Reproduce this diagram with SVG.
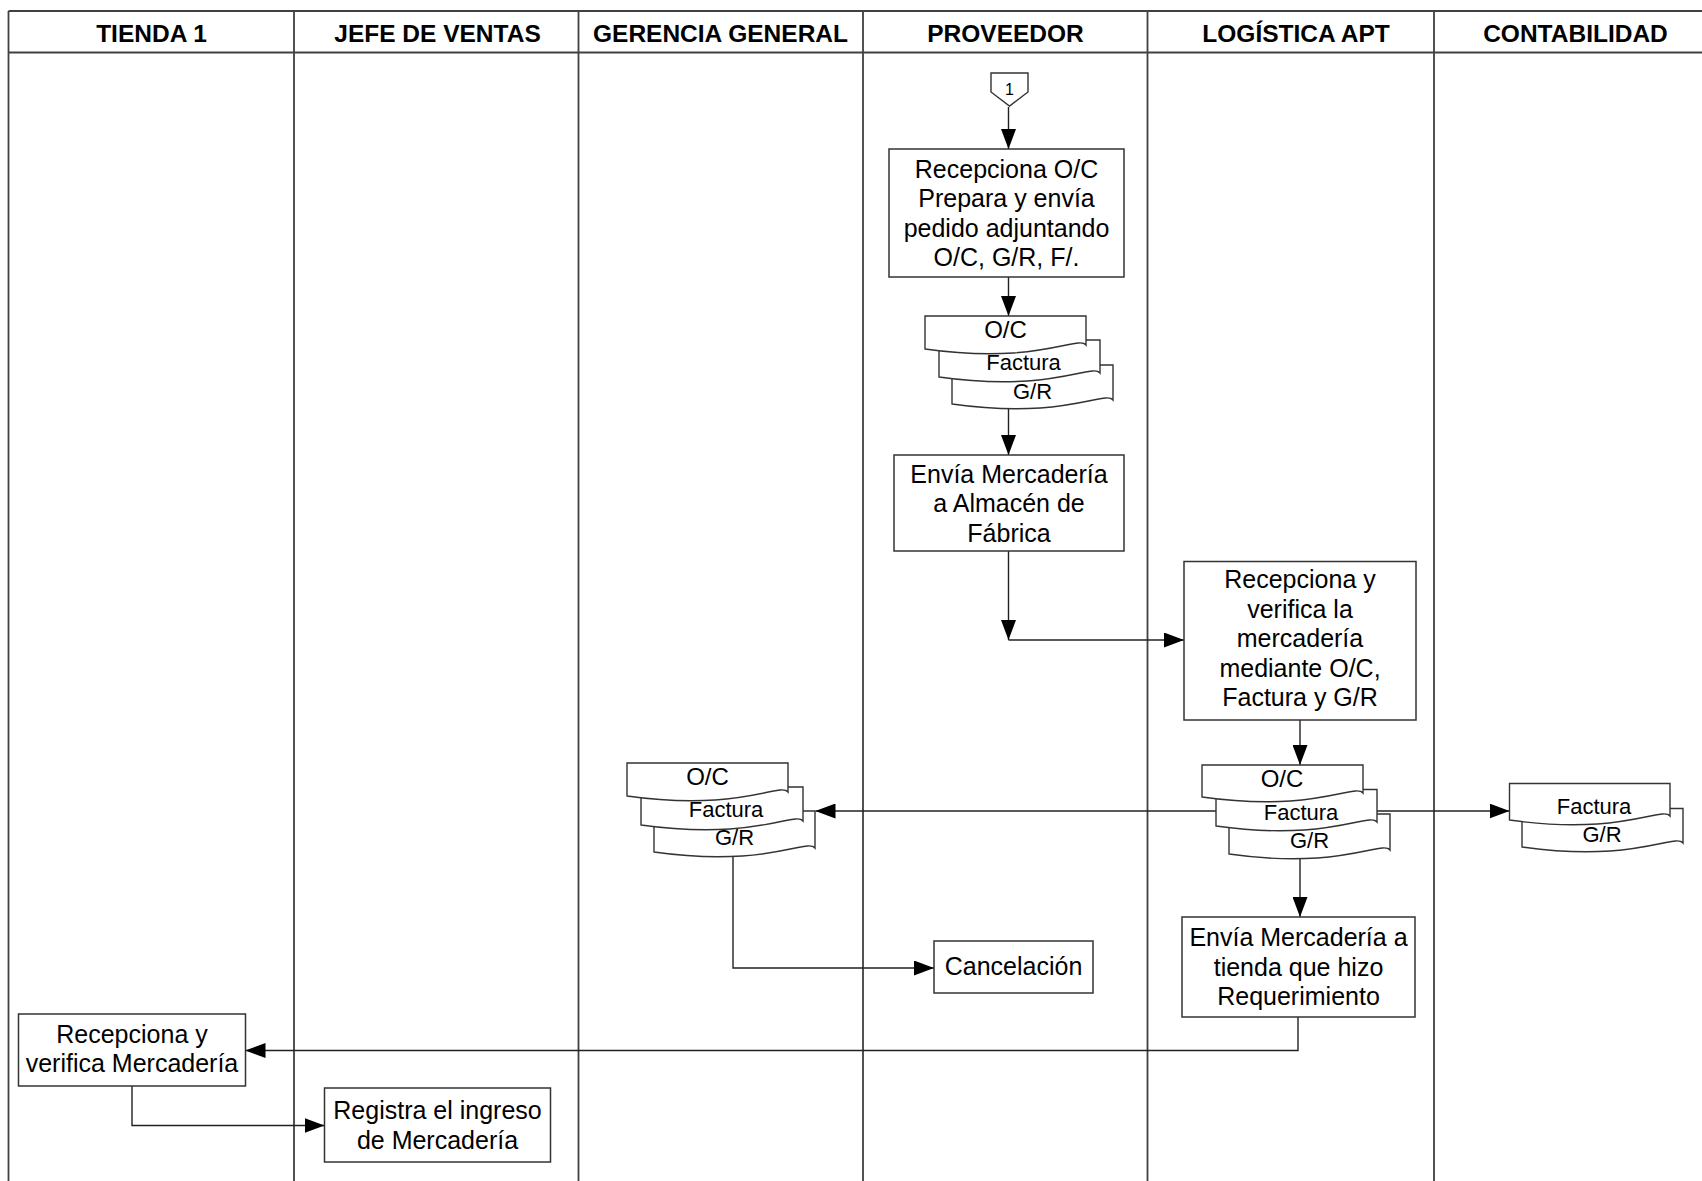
<svg xmlns="http://www.w3.org/2000/svg" width="1702" height="1181" viewBox="0 0 1702 1181">
<defs>
<style>
.lane{stroke:#404040;stroke-width:1.8;fill:none}
.hdr{font-family:"Liberation Sans",Arial,sans-serif;font-weight:bold;font-size:24.5px;text-anchor:middle;fill:#000}
.box{fill:#fff;stroke:#333;stroke-width:1.5}
.doc{fill:#fff;stroke:#333;stroke-width:1.4}
.t{font-family:"Liberation Sans",Arial,sans-serif;font-size:25px;text-anchor:middle;fill:#000}
.d1{font-family:"Liberation Sans",Arial,sans-serif;font-size:24px;text-anchor:middle;fill:#000}
.d2{font-family:"Liberation Sans",Arial,sans-serif;font-size:22px;text-anchor:middle;fill:#000}
.c{stroke:#222;stroke-width:1.4;fill:none}
.a{marker-end:url(#arr)}
</style>
<marker id="arr" markerUnits="userSpaceOnUse" markerWidth="20" markerHeight="15" refX="20" refY="7.5" orient="auto">
<path d="M0,0 L20,7.5 L0,15 Z" fill="#000"/>
</marker>
</defs>
<rect width="1702" height="1181" fill="#fff"/>
<g id="lanes">
<path class="lane" d="M8.5,11 H1702 M8.5,52.5 H1702 M8.5,11 V1181 M294,11 V1181 M578.5,11 V1181 M863,11 V1181 M1147.5,11 V1181 M1434,11 V1181"/>
<text class="hdr" x="151.5" y="41.5">TIENDA 1</text>
<text class="hdr" x="437.5" y="41.5">JEFE DE VENTAS</text>
<text class="hdr" x="720.5" y="41.5">GERENCIA GENERAL</text>
<text class="hdr" x="1005.5" y="41.5">PROVEEDOR</text>
<text class="hdr" x="1296" y="41.5">LOGÍSTICA APT</text>
<text class="hdr" x="1575.5" y="41.5">CONTABILIDAD</text>
</g>
<g id="connectors">
<path class="c a" d="M1008.5,107 V149"/>
<path class="c a" d="M1008.5,277 V316"/>
<path class="c a" d="M1008.5,408 V455"/>
<path class="c a" d="M1008.5,551 V640"/>
<path class="c a" d="M1008.5,640 H1184"/>
<path class="c a" d="M1300,720 V765"/>
<path class="c a" d="M1216,811 H815.5"/>
<path class="c a" d="M1377,811 H1509.5"/>
<path class="c a" d="M1300,856 V917"/>
<path class="c a" d="M733,853 V968 H934"/>
<path class="c a" d="M1298,1017 V1050.5 H245.5"/>
<path class="c a" d="M132,1086 V1125.5 H324.5"/>
</g>
<g id="n_conector1">
<polygon class="doc" points="991,73 1028,73 1028,92 1009.5,106 991,92"/>
<text x="1009.5" y="95" font-family="Liberation Sans, Arial, sans-serif" font-size="16" text-anchor="middle">1</text>
</g>
<g id="n_recepciona_oc">
<rect class="box" x="889" y="149" width="235" height="128"/>
<text class="t" x="1006.5" y="177.5">Recepciona O/C</text>
<text class="t" x="1006.5" y="207">Prepara y envía</text>
<text class="t" x="1006.5" y="236.5">pedido adjuntando</text>
<text class="t" x="1006.5" y="266">O/C, G/R, F/.</text>
</g>
<g id="n_docs_proveedor">
<path class="doc" d="M952,365 H1113 V400 C1105,390 1065,420 952,404 Z"/>
<path class="doc" d="M939,340 H1100 V373 C1092,363 1052,393 939,377 Z"/>
<path class="doc" d="M925,316 H1086 V345 C1078,335 1038,365 925,349 Z"/>
<text class="d1" x="1005.5" y="337.5">O/C</text>
<text class="d2" x="1023.5" y="370">Factura</text>
<text class="d2" x="1032.5" y="398.5">G/R</text>
</g>
<g id="n_envia_almacen">
<rect class="box" x="894" y="455" width="230" height="96"/>
<text class="t" x="1009" y="482.5">Envía Mercadería</text>
<text class="t" x="1009" y="512">a Almacén de</text>
<text class="t" x="1009" y="541.5">Fábrica</text>
</g>
<g id="n_recepciona_verifica">
<rect class="box" x="1184" y="561.5" width="232" height="158.5"/>
<text class="t" x="1300" y="588">Recepciona y</text>
<text class="t" x="1300" y="617.5">verifica la</text>
<text class="t" x="1300" y="647">mercadería</text>
<text class="t" x="1300" y="676.5">mediante O/C,</text>
<text class="t" x="1300" y="706">Factura y G/R</text>
</g>
<g id="n_docs_logistica">
<path class="doc" d="M1229,814 H1390 V850 C1382,840 1342,870 1229,854 Z"/>
<path class="doc" d="M1216,789.5 H1377 V822 C1369,812 1329,842 1216,826 Z"/>
<path class="doc" d="M1202,765 H1363 V793 C1355,783 1315,813 1202,797 Z"/>
<text class="d1" x="1282" y="786.5">O/C</text>
<text class="d2" x="1301" y="819.5">Factura</text>
<text class="d2" x="1309.5" y="847.5">G/R</text>
</g>
<g id="n_docs_gerencia">
<path class="doc" d="M654,811 H815 V848 C807,838 767,868 654,852 Z"/>
<path class="doc" d="M641,787 H803 V821 C795,811 755,841 641,825 Z"/>
<path class="doc" d="M627,763 H788 V792 C780,782 740,812 627,796 Z"/>
<text class="d1" x="707.5" y="784.5">O/C</text>
<text class="d2" x="726" y="817">Factura</text>
<text class="d2" x="734.5" y="845">G/R</text>
</g>
<g id="n_docs_contabilidad">
<path class="doc" d="M1522,808.5 H1683 V843 C1675,833 1635,863 1522,847 Z"/>
<path class="doc" d="M1509.5,783.5 H1670 V816 C1662,806 1622,836 1509.5,820 Z"/>
<text class="d2" x="1594" y="813.5">Factura</text>
<text class="d2" x="1602" y="842">G/R</text>
</g>
<g id="n_envia_tienda">
<rect class="box" x="1182" y="917" width="233" height="100"/>
<text class="t" x="1298.5" y="945.5">Envía Mercadería a</text>
<text class="t" x="1298.5" y="975.5">tienda que hizo</text>
<text class="t" x="1298.5" y="1005">Requerimiento</text>
</g>
<g id="n_cancelacion">
<rect class="box" x="934" y="941" width="159" height="52"/>
<text class="t" x="1013.5" y="975">Cancelación</text>
</g>
<g id="n_tienda_recepciona">
<rect class="box" x="18.5" y="1014" width="227" height="72"/>
<text class="t" x="132" y="1042.5">Recepciona y</text>
<text class="t" x="132" y="1072">verifica Mercadería</text>
</g>
<g id="n_registra">
<rect class="box" x="324.5" y="1088" width="226" height="74"/>
<text class="t" x="437.5" y="1119">Registra el ingreso</text>
<text class="t" x="437.5" y="1148.5">de Mercadería</text>
</g>
</svg>
